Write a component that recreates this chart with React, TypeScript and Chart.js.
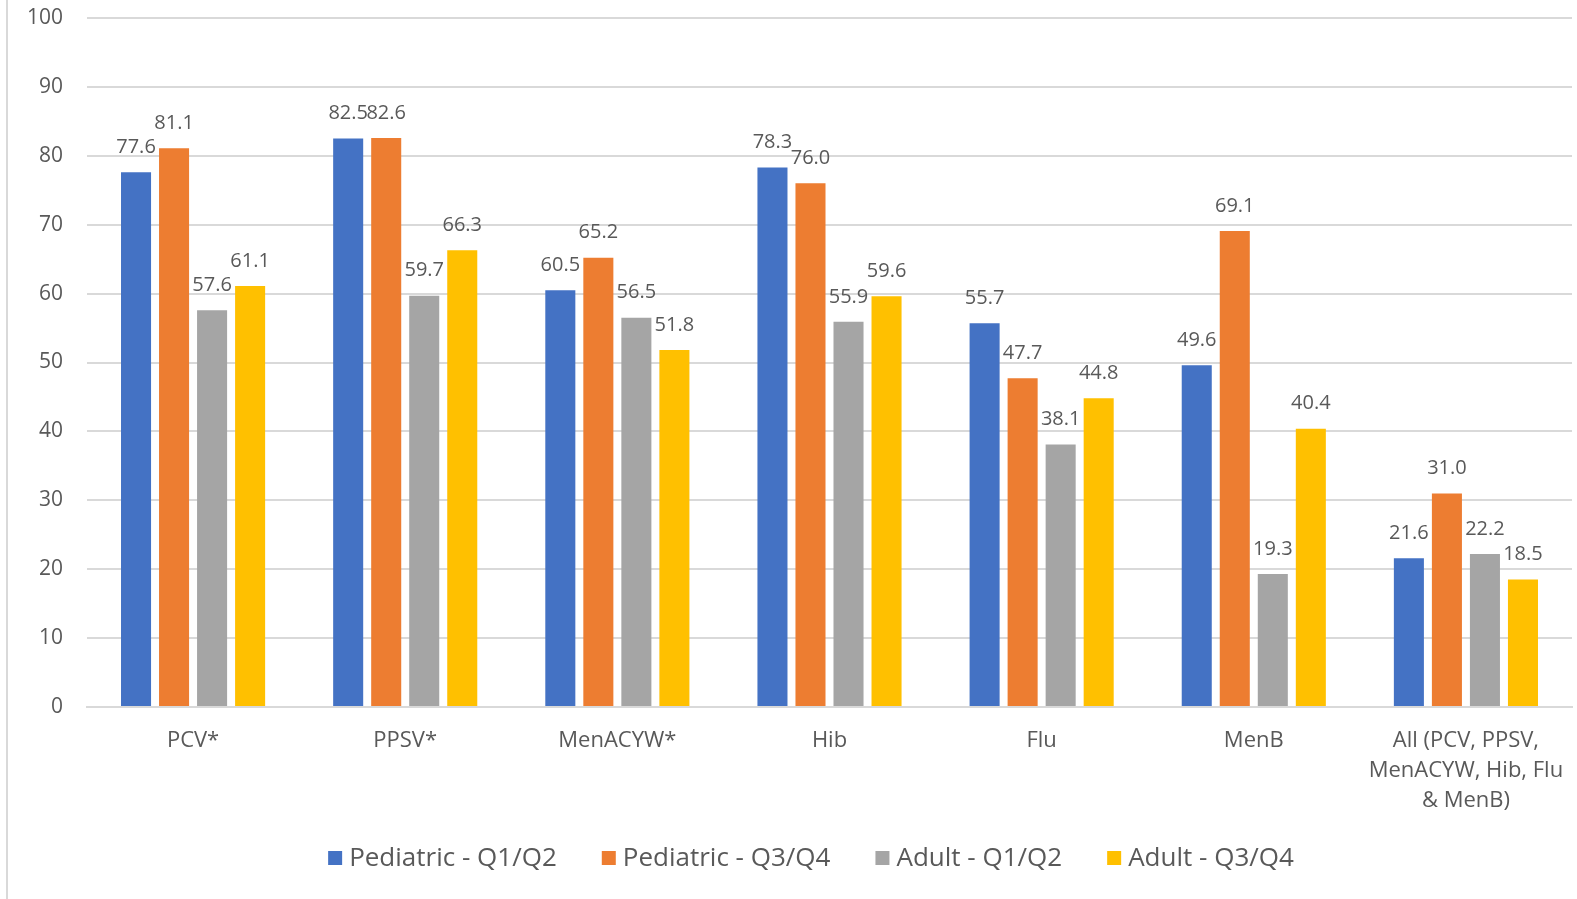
import React, { useEffect, useRef } from "react";
import { Chart, registerables } from "chart.js";

Chart.register(...registerables);

const categories: (string | string[])[] = [
  "PCV*",
  "PPSV*",
  "MenACYW*",
  "Hib",
  "Flu",
  "MenB",
  ["All (PCV, PPSV,", "MenACYW, Hib, Flu", "& MenB)"],
];

const seriesNames = [
  "Pediatric - Q1/Q2",
  "Pediatric - Q3/Q4",
  "Adult - Q1/Q2",
  "Adult - Q3/Q4",
];

const pediatricQ1Q2 = [77.6, 82.5, 60.5, 78.3, 55.7, 49.6, 21.6];
const pediatricQ3Q4 = [81.1, 82.6, 65.2, 76.0, 47.7, 69.1, 31.0];
const adultQ1Q2 = [57.6, 59.7, 56.5, 55.9, 38.1, 19.3, 22.2];
const adultQ3Q4 = [61.1, 66.3, 51.8, 59.6, 44.8, 40.4, 18.5];

const seriesColors = ["#4472C4", "#ED7D31", "#A5A5A5", "#FFC000"];

const yTicks = { min: 0, max: 100, step: 10 };

const FONT = "'Open Sans', 'Noto Sans', sans-serif";
const TEXT = "#595959";
const GRID = "#d9d9d9";

// Thin frame line down the left edge of the chart area
const frameLine = {
  id: "frameLine",
  beforeDraw(chart: Chart) {
    const { ctx, height } = chart;
    ctx.save();
    ctx.strokeStyle = GRID;
    ctx.lineWidth = 2;
    ctx.beginPath();
    ctx.moveTo(7, 0);
    ctx.lineTo(7, height);
    ctx.stroke();
    ctx.restore();
  },
};

// Value labels centred above each bar
const valueLabels = {
  id: "valueLabels",
  afterDatasetsDraw(chart: Chart) {
    const { ctx } = chart;
    ctx.save();
    ctx.font = `20px ${FONT}`;
    ctx.fillStyle = TEXT;
    ctx.textAlign = "center";
    ctx.textBaseline = "middle";
    chart.data.datasets.forEach((ds, i) => {
      const meta = chart.getDatasetMeta(i);
      meta.data.forEach((bar: any, j: number) => {
        const v = ds.data[j] as number;
        ctx.fillText(v.toFixed(1), bar.x, bar.y - 25);
      });
    });
    ctx.restore();
  },
};

// Legend row along the bottom: square swatch, then series name
const bottomLegend = {
  id: "bottomLegend",
  afterDraw(chart: Chart) {
    const { ctx } = chart;
    const box = 14;
    const gap = 7;
    const spacing = 45;
    const cy = 858;
    const centerX = 811;
    ctx.save();
    ctx.font = `26px ${FONT}`;
    ctx.textBaseline = "middle";
    ctx.textAlign = "left";
    const items = chart.data.datasets.map((ds) => ({
      label: ds.label as string,
      color: ds.backgroundColor as string,
      w: ctx.measureText(ds.label as string).width,
    }));
    const total =
      items.reduce((s, it) => s + box + gap + it.w, 0) + spacing * (items.length - 1);
    let x = centerX - total / 2;
    items.forEach((it) => {
      ctx.fillStyle = it.color;
      ctx.fillRect(x, cy - box / 2, box, box);
      ctx.fillStyle = TEXT;
      ctx.fillText(it.label, x + box + gap, cy + 1);
      x += box + gap + it.w + spacing;
    });
    ctx.restore();
  },
};

export default function App() {
  const ref = useRef<HTMLCanvasElement | null>(null);

  useEffect(() => {
    if (!ref.current) return;
    const values = [pediatricQ1Q2, pediatricQ3Q4, adultQ1Q2, adultQ3Q4];
    const chart = new Chart(ref.current, {
      type: "bar",
      data: {
        labels: categories,
        datasets: values.map((data, i) => ({
          label: seriesNames[i],
          data,
          backgroundColor: seriesColors[i],
          categoryPercentage: 0.717,
          barPercentage: 0.79,
        })),
      },
      options: {
        animation: false,
        responsive: false,
        maintainAspectRatio: false,
        layout: { padding: { left: 0, right: 5, top: 18, bottom: 0 } },
        plugins: {
          legend: { display: false },
          tooltip: { enabled: false },
        },
        scales: {
          x: {
            grid: { display: false, drawTicks: false },
            border: { display: true, color: GRID, width: 2 },
            ticks: {
              color: TEXT,
              font: { family: FONT, size: 22, lineHeight: 1.36 },
              padding: 19,
              maxRotation: 0,
              autoSkip: false,
            },
            afterFit(scale: any) {
              scale.height = 192;
              scale.paddingLeft = 0;
              scale.paddingRight = 0;
            },
          },
          y: {
            min: yTicks.min,
            max: yTicks.max,
            ticks: {
              stepSize: yTicks.step,
              color: TEXT,
              font: { family: FONT, size: 21 },
              padding: 24,
            },
            grid: { color: GRID, lineWidth: 2, drawTicks: false },
            border: { display: false },
            afterFit(scale: any) {
              scale.width = 87;
              scale.paddingTop = 0;
              scale.paddingBottom = 0;
            },
          },
        },
      },
      plugins: [frameLine, valueLabels, bottomLegend],
    });
    return () => chart.destroy();
  }, []);

  return (
    <div style={{ position: "absolute", left: 0, top: 0, width: 1577, height: 899, background: "#fff" }}>
      <canvas ref={ref} width={1577} height={899} style={{ display: "block" }} />
    </div>
  );
}
